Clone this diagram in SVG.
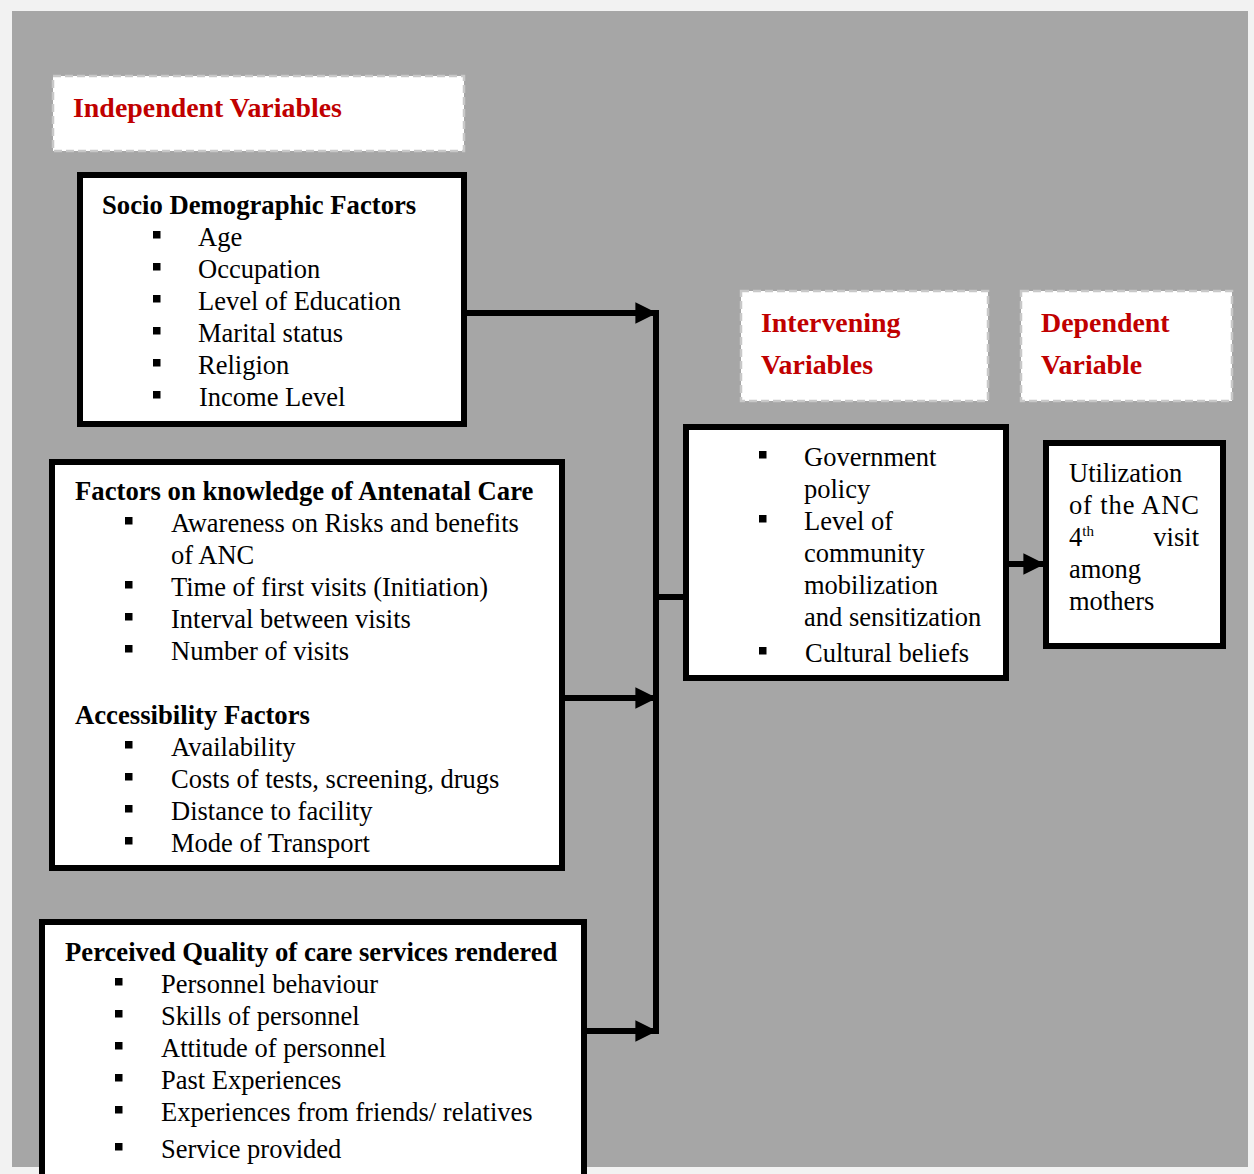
<svg xmlns="http://www.w3.org/2000/svg" width="1254" height="1174" viewBox="0 0 1254 1174">
<defs>
<style>
.t{font-family:"Liberation Serif","Times New Roman",serif;font-size:26.5px;fill:#000}
.b{font-weight:bold;font-size:26.7px}
.r{font-family:"Liberation Serif","Times New Roman",serif;font-size:27.9px;font-weight:bold;fill:#c00000}
.box{fill:#fff;stroke:#000;stroke-width:6}
.dash{fill:#fff;stroke:#c8c8c8;stroke-width:2.5;stroke-dasharray:8 4}
.ln{stroke:#000;stroke-width:6;fill:none}
</style>
<marker id="ah" viewBox="0 0 10 10" refX="10" refY="5" markerWidth="4" markerHeight="3.6" markerUnits="strokeWidth" orient="auto">
<path d="M0,0L10,5L0,10z" fill="#000"/>
</marker>
<rect id="bu" width="7.5" height="7.5" fill="#000"/>
</defs>
<rect x="0" y="0" width="1254" height="1174" fill="#f2f2f2"/>
<rect x="12" y="11" width="1236" height="1156" fill="#a6a6a6"/>

<g id="connectors">
<line class="ln" x1="467" y1="313" x2="657" y2="313" marker-end="url(#ah)"/>
<line class="ln" x1="565" y1="698" x2="657" y2="698" marker-end="url(#ah)"/>
<line class="ln" x1="587" y1="1031" x2="657" y2="1031" marker-end="url(#ah)"/>
<line class="ln" x1="656" y1="310" x2="656" y2="1034"/>
<line class="ln" x1="656" y1="597" x2="686" y2="597"/>
<line class="ln" x1="1009" y1="564" x2="1045" y2="564" marker-end="url(#ah)"/>
</g>

<g id="label-independent">
<rect class="dash" x="53" y="76" width="411" height="75"/>
<text class="r" x="73" y="117">Independent Variables</text>
</g>

<g id="label-intervening">
<rect class="dash" x="741" y="291" width="247" height="110"/>
<text class="r" x="761" y="332">Intervening</text>
<text class="r" x="761" y="374">Variables</text>
</g>

<g id="label-dependent">
<rect class="dash" x="1021" y="291" width="211" height="110"/>
<text class="r" x="1041" y="332">Dependent</text>
<text class="r" x="1041" y="374">Variable</text>
</g>

<g id="socio">
<rect class="box" x="80" y="175" width="384" height="249"/>
<text class="t b" x="102" y="214">Socio Demographic Factors</text>
<use href="#bu" x="153" y="231"/><text class="t" x="198" y="246">Age</text>
<use href="#bu" x="153" y="263"/><text class="t" x="198" y="278">Occupation</text>
<use href="#bu" x="153" y="295"/><text class="t" x="198" y="310">Level of Education</text>
<use href="#bu" x="153" y="327"/><text class="t" x="198" y="342">Marital status</text>
<use href="#bu" x="153" y="359"/><text class="t" x="198" y="374">Religion</text>
<use href="#bu" x="153" y="391"/><text class="t" x="199" y="406">Income Level</text>
</g>

<g id="knowledge">
<rect class="box" x="52" y="462" width="510" height="406"/>
<text class="t b" x="75" y="500">Factors on knowledge of Antenatal Care</text>
<use href="#bu" x="125" y="517"/><text class="t" x="171" y="532">Awareness on Risks and benefits</text>
<text class="t" x="171" y="564">of ANC</text>
<use href="#bu" x="125" y="581"/><text class="t" x="171" y="596">Time of first visits (Initiation)</text>
<use href="#bu" x="125" y="613"/><text class="t" x="171" y="628">Interval between visits</text>
<use href="#bu" x="125" y="645"/><text class="t" x="171" y="660">Number of visits</text>
<text class="t b" x="75" y="724">Accessibility Factors</text>
<use href="#bu" x="125" y="741"/><text class="t" x="171" y="756">Availability</text>
<use href="#bu" x="125" y="773"/><text class="t" x="171" y="788">Costs of tests, screening, drugs</text>
<use href="#bu" x="125" y="805"/><text class="t" x="171" y="820">Distance to facility</text>
<use href="#bu" x="125" y="837"/><text class="t" x="171" y="852">Mode of Transport</text>
</g>

<g id="quality">
<rect class="box" x="42" y="922" width="542" height="260"/>
<text class="t b" x="65" y="961">Perceived Quality of care services rendered</text>
<use href="#bu" x="115" y="978"/><text class="t" x="161" y="993">Personnel behaviour</text>
<use href="#bu" x="115" y="1010"/><text class="t" x="161" y="1025">Skills of personnel</text>
<use href="#bu" x="115" y="1042"/><text class="t" x="161" y="1057">Attitude of personnel</text>
<use href="#bu" x="115" y="1074"/><text class="t" x="161" y="1089">Past Experiences</text>
<use href="#bu" x="115" y="1106"/><text class="t" x="161" y="1121">Experiences from friends/ relatives</text>
<use href="#bu" x="115" y="1143"/><text class="t" x="161" y="1158">Service provided</text>
</g>

<g id="intervening">
<rect class="box" x="686" y="427" width="320" height="251"/>
<use href="#bu" x="759" y="451"/><text class="t" x="804" y="466">Government</text>
<text class="t" x="804" y="498">policy</text>
<use href="#bu" x="759" y="515"/><text class="t" x="804" y="530">Level of</text>
<text class="t" x="804" y="562">community</text>
<text class="t" x="804" y="594">mobilization</text>
<text class="t" x="804" y="626">and sensitization</text>
<use href="#bu" x="759" y="647"/><text class="t" x="805" y="662">Cultural beliefs</text>
</g>

<g id="dependent">
<rect class="box" x="1046" y="443" width="177" height="203"/>
<text class="t" x="1069" y="482">Utilization</text>
<text class="t" x="1069" y="514" textLength="130" lengthAdjust="spacing">of the ANC</text>
<text class="t" x="1069" y="546">4<tspan font-size="15" dy="-10">th</tspan></text>
<text class="t" x="1199" y="546" text-anchor="end">visit</text>
<text class="t" x="1069" y="578">among</text>
<text class="t" x="1069" y="610">mothers</text>
</g>
</svg>
